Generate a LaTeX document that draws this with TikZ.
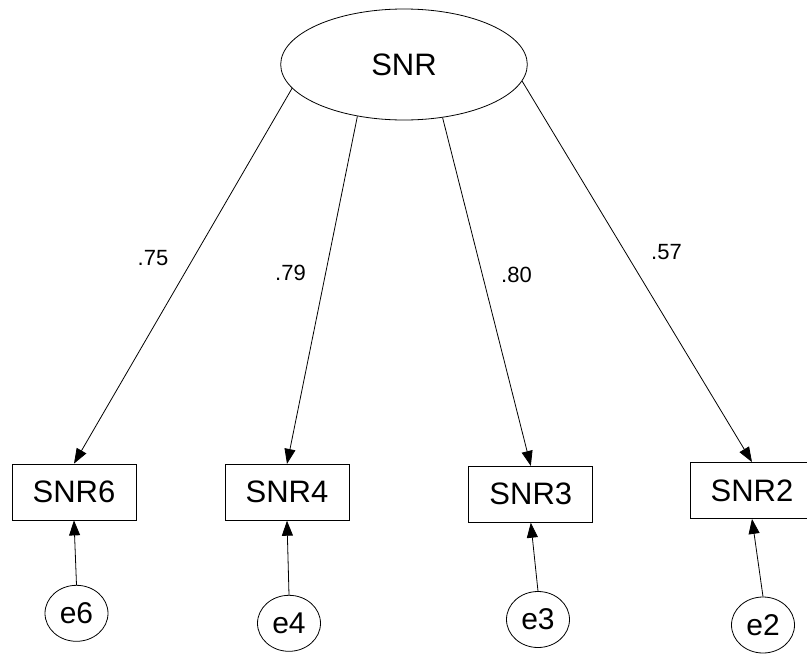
\documentclass[tikz,border=0pt]{standalone}
\usepackage{fontspec}
\setmainfont{Liberation Sans}
\usetikzlibrary{shapes.geometric,arrows.meta}
\begin{document}
\begin{tikzpicture}[x=1pt,y=-1pt,
  line width=0.8pt,
  latent/.style={ellipse,draw,inner sep=0pt,minimum width=246.6pt,minimum height=111pt,
                 font=\fontsize{31}{36}\selectfont},
  observed/.style={rectangle,draw,minimum width=124pt,minimum height=56pt,inner sep=0pt,
                   font=\fontsize{31}{36}\selectfont},
  errvar/.style={ellipse,draw,minimum width=63pt,minimum height=56pt,inner sep=0pt,
                 font=\fontsize{30}{36}\selectfont},
  coef/.style={inner sep=0pt,font=\fontsize{22}{26}\selectfont},
  regpath/.style={-{Triangle[length=15pt,width=11pt]}}
]
\useasboundingbox (0,0) rectangle (807,654);

% latent factor
\node[latent] (snr) at (404,64.5) {SNR\hspace{32pt}};

% indicators
\node[observed] (snr6) at (74,492)    {SNR6};
\node[observed] (snr4) at (287,492.3) {SNR4};
\node[observed] (snr3) at (530.8,494.3) {SNR3};
\node[observed] (snr2) at (752,490.5) {SNR2};

% error terms
\node[errvar] (e6) at (76.5,613.3) {e6};
\node[errvar] (e4) at (289,623.3)  {e4};
\node[errvar] (e3) at (538,619.5)  {e3};
\node[errvar] (e2) at (763,625)    {e2};

% loadings
\draw[regpath] (snr.192.8) -- (snr6.north);
\draw[regpath] (snr.228.4) -- (snr4.north);
\draw[regpath] (snr.306.5) -- (snr3.north);
\draw[regpath] (snr.352.6) -- (snr2.north);

% error paths
\draw[regpath] (e6.north) -- (snr6.south);
\draw[regpath] (e4.north) -- (snr4.south);
\draw[regpath] (e3.north) -- (snr3.south);
\draw[regpath] (e2.north) -- (snr2.south);

% standardized estimates
\node[coef] (l6) at (153,258)   {.75};
\node[coef] (l4) at (290.5,272.5) {.79};
\node[coef] (l3) at (516.5,275) {.80};
\node[coef] (l2) at (666.5,252.5) {.57};
\end{tikzpicture}
\end{document}
